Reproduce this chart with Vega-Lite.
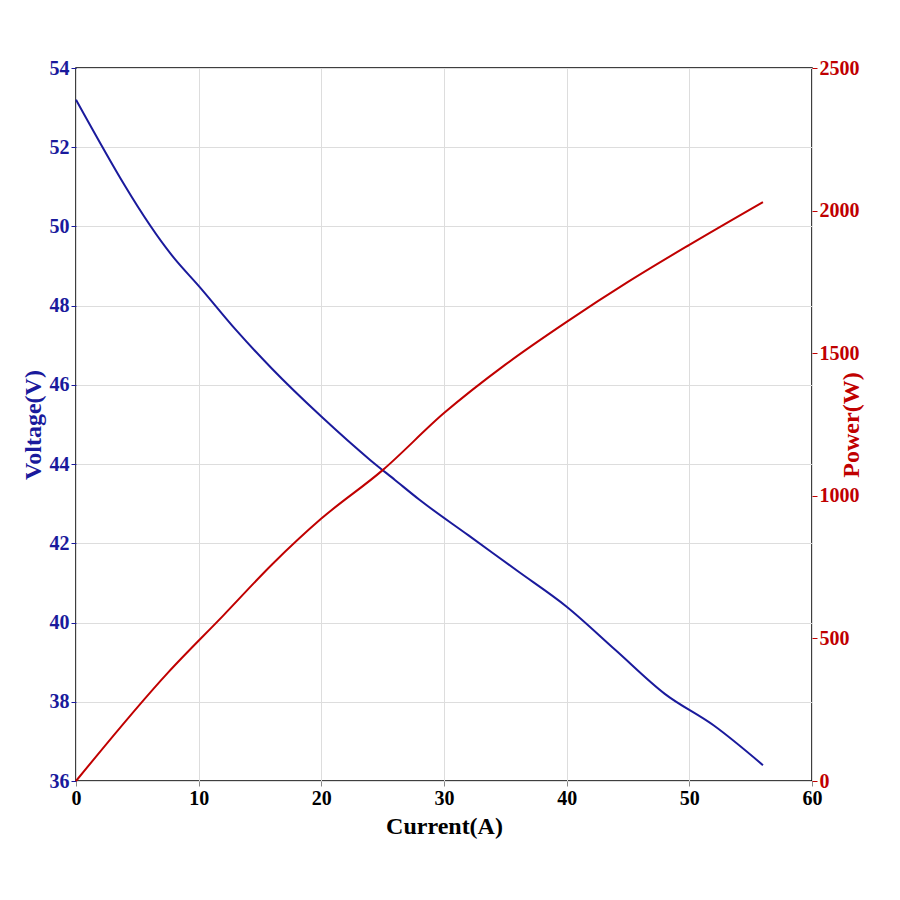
{
"$schema":"https://vega.github.io/schema/vega-lite/v6.json",
"width":736,"height":713,
"autosize":{"type":"none"},
"padding":{"left":76,"top":68,"right":88,"bottom":119},
"background":"white",
"config":{"view":{"stroke":"black","strokeWidth":1.5},"font":"Liberation Serif",
"axis":{"labelFont":"Liberation Serif","titleFont":"Liberation Serif","labelFontWeight":"bold","titleFontWeight":"bold","labelFontSize":20,"titleFontSize":24,"gridColor":"#dddddd","domain":false,"tickDirection":"inward","labelFlush":false}},
"datasets":{
"v":[{"I":0,"V":53.2},{"I":8,"V":49.2},{"I":10,"V":48.5},{"I":13,"V":47.4},{"I":16,"V":46.4},{"I":20,"V":45.2},{"I":24,"V":44.1},{"I":26,"V":43.6},{"I":28,"V":43.1},{"I":32,"V":42.2},{"I":36,"V":41.3},{"I":40,"V":40.4},{"I":44,"V":39.3},{"I":48,"V":38.2},{"I":52,"V":37.4},{"I":56,"V":36.4}],
"p":[{"I":0,"P":0},{"I":7.5,"P":380},{"I":12,"P":580},{"I":16,"P":760},{"I":20,"P":920},{"I":25,"P":1090},{"I":30,"P":1290},{"I":35,"P":1460},{"I":40,"P":1610},{"I":45,"P":1750},{"I":50,"P":1880},{"I":56,"P":2030}]},
"layer":[
{"data":{"name":"v"},"mark":{"type":"line","color":"#1a1a9c","strokeWidth":2,"interpolate":"monotone"},
"encoding":{"x":{"field":"I","type":"quantitative","scale":{"domain":[0,60],"nice":false},"axis":{"title":"Current(A)","values":[0,10,20,30,40,50,60],"labelColor":"black","titleColor":"black","titlePadding":6}},
"y":{"field":"V","type":"quantitative","scale":{"domain":[36,54],"nice":false,"zero":false},"axis":{"title":"Voltage(V)","values":[36,38,40,42,44,46,48,50,52,54],"labelColor":"#1a1a9c","titleColor":"#1a1a9c","tickColor":"#1a1a9c"}}}},
{"data":{"name":"p"},"mark":{"type":"line","color":"#c00000","strokeWidth":2,"interpolate":"monotone"},
"encoding":{"x":{"field":"I","type":"quantitative"},
"y":{"field":"P","type":"quantitative","scale":{"domain":[0,2500],"nice":false},"axis":{"orient":"right","title":"Power(W)","titleAngle":270,"grid":false,"format":"d","values":[0,500,1000,1500,2000,2500],"labelColor":"#c00000","titleColor":"#c00000","tickColor":"#c00000"}}}}
],
"resolve":{"scale":{"y":"independent"}}
}
